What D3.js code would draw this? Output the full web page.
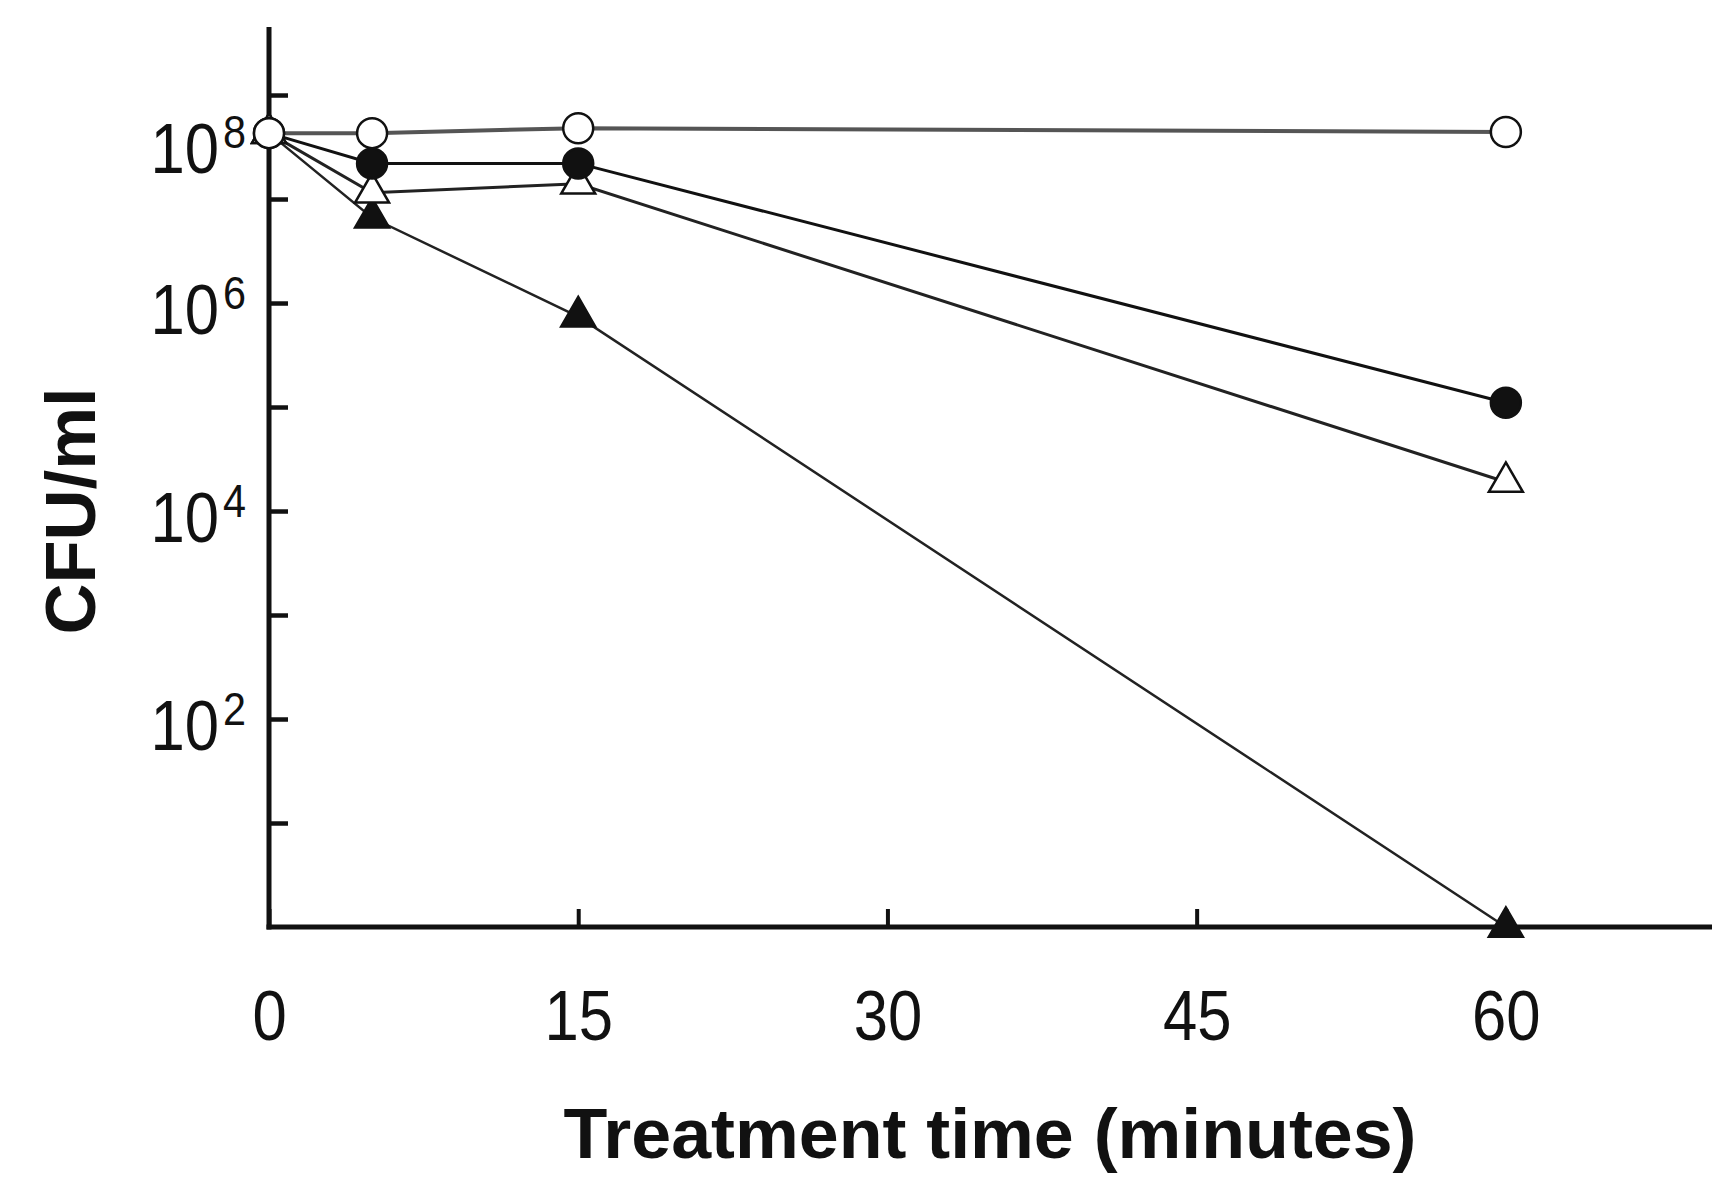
<!DOCTYPE html>
<html>
<head>
<meta charset="utf-8">
<script src="https://cdn.jsdelivr.net/npm/d3@7"></script>
<style>
  html, body { margin: 0; padding: 0; background: #fff; }
  svg { display: block; font-family: "Liberation Sans", Arial, sans-serif; }
</style>
</head>
<body>
<svg id="chart" width="1732" height="1195"></svg>
<script>
// ---- data ----
const times = [0, 5, 15, 60];                        // minutes
const openCircle   = [4.3e7, 4.3e7, 4.8e7, 4.4e7];   // CFU/ml
const filledCircle = [4.3e7, 2.2e7, 2.2e7, 1.1e5];
const openTriangle = [4.3e7, 1.15e7, 1.4e7, 1.9e4];
const filledTriangle = [4.3e7, 6.6e6, 7.4e5, 1];
const xTickValues = [0, 15, 30, 45, 60];
const yTickExponents = [1, 2, 3, 4, 5, 6, 7, 8];
const yLabelExponents = [8, 6, 4, 2];
const xTitle = "Treatment time (minutes)";
const yTitle = "CFU/ml";

// ---- layout ----
const svg = d3.select("#chart");
const x = d3.scaleLinear().domain([0, 70]).range([269, 1712]);
const y = d3.scaleLog().domain([1, Math.pow(10, 8.654)]).range([927, 27]);
const topLabelShift = -0.45; // the 10^8 label sits below its tick in the source figure
const narrow = 0.88;          // digits in the source are slightly condensed

// axes
const xAxis = d3.axisBottom(x).tickValues(xTickValues).tickSizeInner(-18).tickSizeOuter(0).tickPadding(63);
const gx = svg.append("g").attr("transform", "translate(0,927)").call(xAxis);
gx.select(".domain").remove();
gx.selectAll(".tick line").attr("stroke", "#111").attr("stroke-width", 4);
gx.selectAll(".tick text").attr("font-size", 70).attr("fill", "#111")
  .attr("font-family", "Liberation Sans, Arial, sans-serif")
  .attr("transform", `scale(${narrow},1)`);

const yAxis = d3.axisLeft(y).tickValues(yTickExponents.map(e => Math.pow(10, e))).tickSizeInner(-19).tickSizeOuter(0).tickFormat("");
const gy = svg.append("g").attr("transform", "translate(269,0)").call(yAxis);
gy.select(".domain").remove();
gy.selectAll(".tick line").attr("stroke", "#111").attr("stroke-width", 4.5);

// axis lines
svg.append("line").attr("x1", x(0)).attr("x2", x(0)).attr("y1", y(Math.pow(10, 8.654))).attr("y2", y(1) + 2.5)
  .attr("stroke", "#111").attr("stroke-width", 5);
svg.append("line").attr("x1", x(0) - 2.5).attr("x2", x(70)).attr("y1", y(1)).attr("y2", y(1))
  .attr("stroke", "#111").attr("stroke-width", 5);

// y labels 10^n
const yl = svg.append("g");
yLabelExponents.forEach(e => {
  const pos = y(Math.pow(10, e === 8 ? e + topLabelShift : e));
  yl.append("g").attr("transform", `translate(219,${pos + 31}) scale(${narrow},1)`)
    .append("text").attr("text-anchor", "end")
    .attr("font-size", 70).attr("fill", "#111").text("10");
  yl.append("g").attr("transform", `translate(223,${pos + 6}) scale(${narrow},1)`)
    .append("text").attr("text-anchor", "start")
    .attr("font-size", 47).attr("fill", "#111").text(String(e));
});

// titles
svg.append("text").attr("x", 990).attr("y", 1158).attr("text-anchor", "middle")
  .attr("font-size", 71).attr("font-weight", "bold").attr("fill", "#111")
  .attr("textLength", 853).attr("lengthAdjust", "spacingAndGlyphs").text(xTitle);
svg.append("text").attr("transform", "translate(95,511) rotate(-90)").attr("text-anchor", "middle")
  .attr("font-size", 71).attr("font-weight", "bold").attr("fill", "#111")
  .attr("textLength", 247).attr("lengthAdjust", "spacingAndGlyphs").text(yTitle);

// series
const series = [
  { vals: filledTriangle, shape: "triangle", fill: "#111", line: "#222", lw: 2.5 },
  { vals: openTriangle,   shape: "triangle", fill: "#fff", line: "#222", lw: 3 },
  { vals: filledCircle,   shape: "circle",   fill: "#111", line: "#111", lw: 3 },
  { vals: openCircle,     shape: "circle",   fill: "#fff", line: "#555", lw: 4 }
];
const line = d3.line().x(d => x(d[0])).y(d => y(d[1]));
const gl = svg.append("g");
series.forEach(s => {
  gl.append("path").datum(times.map((t, i) => [t, s.vals[i]]))
    .attr("d", line).attr("fill", "none").attr("stroke", s.line).attr("stroke-width", s.lw);
});
const gm = svg.append("g");
series.forEach(s => {
  const pts = times.map((t, i) => [t, s.vals[i]]);
  if (s.shape === "circle") {
    gm.selectAll(null).data(pts).enter().append("circle")
      .attr("cx", d => x(d[0])).attr("cy", d => y(d[1])).attr("r", 15)
      .attr("fill", s.fill).attr("stroke", "#111").attr("stroke-width", 2.5);
  } else {
    const sym = d3.symbol().type(d3.symbolTriangle).size(500);
    gm.selectAll(null).data(pts).enter().append("path")
      .attr("d", sym).attr("transform", d => `translate(${x(d[0])},${y(d[1])})`)
      .attr("fill", s.fill).attr("stroke", "#111").attr("stroke-width", 2.5);
  }
});
</script>
</body>
</html>
